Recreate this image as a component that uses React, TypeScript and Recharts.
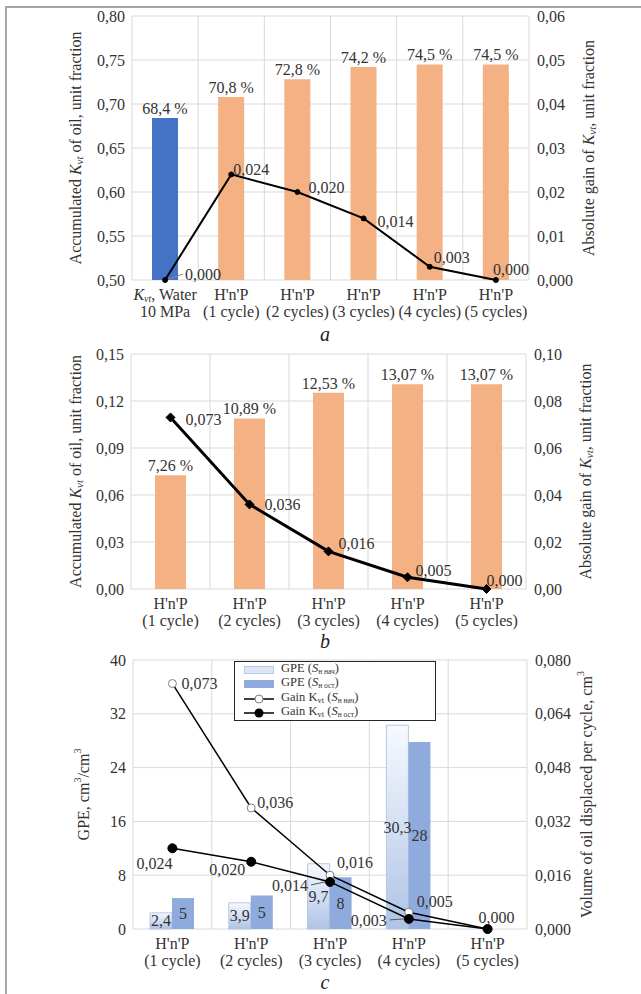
import React from 'react';
import {
  ComposedChart,
  Bar,
  Line,
  XAxis,
  YAxis,
  CartesianGrid,
  LabelList,
  Cell,
  Legend,
} from 'recharts';

// ---------------- data ----------------
// Chart a
const categoriesA = [
  'K_vt, Water\n10 MPa',
  "H'n'P\n(1 cycle)",
  "H'n'P\n(2 cycles)",
  "H'n'P\n(3 cycles)",
  "H'n'P\n(4 cycles)",
  "H'n'P\n(5 cycles)",
];
const kvtA = [0.684, 0.708, 0.728, 0.742, 0.745, 0.745];
const gainA = [0.0, 0.024, 0.02, 0.014, 0.003, 0.0];
const leftTicksA = [0.5, 0.55, 0.6, 0.65, 0.7, 0.75, 0.8];
const rightTicksA = [0, 0.01, 0.02, 0.03, 0.04, 0.05, 0.06];

// Chart b
const categoriesB = [
  "H'n'P\n(1 cycle)",
  "H'n'P\n(2 cycles)",
  "H'n'P\n(3 cycles)",
  "H'n'P\n(4 cycles)",
  "H'n'P\n(5 cycles)",
];
const kvtB = [0.0726, 0.1089, 0.1253, 0.1307, 0.1307];
const gainB = [0.073, 0.036, 0.016, 0.005, 0.0];
const leftTicksB = [0, 0.03, 0.06, 0.09, 0.12, 0.15];
const rightTicksB = [0, 0.02, 0.04, 0.06, 0.08, 0.1];

// Chart c
const categoriesC = [
  "H'n'P\n(1 cycle)",
  "H'n'P\n(2 cycles)",
  "H'n'P\n(3 cycles)",
  "H'n'P\n(4 cycles)",
  "H'n'P\n(5 cycles)",
];
const gpeInitial = [2.4, 3.9, 9.7, 30.3, null];
const gpeResidual = [4.6, 5.0, 7.7, 27.8, null];
const gainInitial = [0.073, 0.036, 0.016, 0.005, 0.0];
const gainResidual = [0.024, 0.02, 0.014, 0.003, 0.0];
const leftTicksC = [0, 8, 16, 24, 32, 40];
const rightTicksC = [0, 0.016, 0.032, 0.048, 0.064, 0.08];
const legendLabelsC = [
  { main: 'GPE (', sub: 'н нач', kvt: false },
  { main: 'GPE (', sub: 'н ост', kvt: false },
  { main: 'Gain K', sub: 'н нач', kvt: true },
  { main: 'Gain K', sub: 'н ост', kvt: true },
];

// ---------------- styles ----------------
const FONT = 'Liberation Serif, DejaVu Serif, Times New Roman, serif';
const TXT = '#333333';
const GRID = '#D9D9D9';
const ORANGE = '#F4B183';
const BLUE = '#4472C4';
const MID_BLUE = '#8FAADC';
const LIGHT_BLUE = '#B4C7E7';

type Off = { dx: number; dy: number; anchor?: 'start' | 'end'; leader?: boolean; hide?: boolean };

const offsA: Off[] = [
  { dx: 20, dy: -6, leader: true },
  { dx: 2, dy: -5 },
  { dx: 11, dy: -5 },
  { dx: 14, dy: 3 },
  { dx: 4, dy: -9 },
  { dx: -3, dy: -11 },
];
const offsB: Off[] = [
  { dx: 15, dy: 2 },
  { dx: 15, dy: 0 },
  { dx: 10, dy: -8 },
  { dx: 8, dy: -7 },
  { dx: 0, dy: -9 },
];
const offsCInit: Off[] = [
  { dx: 9, dy: 0 },
  { dx: 6, dy: -5 },
  { dx: 7, dy: -13 },
  { dx: 8, dy: -11 },
  { dx: -9, dy: -12 },
];
const offsCRes: Off[] = [
  { dx: 0, dy: 15, anchor: 'end' },
  { dx: -6, dy: 8, anchor: 'end' },
  { dx: -22, dy: 4, anchor: 'end', leader: true },
  { dx: -22, dy: 2, anchor: 'end', leader: true },
  { dx: 0, dy: 0, hide: true },
];

const fmt = (v: number, d: number) => v.toFixed(d).replace('.', ',');

// ---------------- helpers ----------------
function richLine(line: string) {
  if (line.startsWith('K_vt')) {
    return [
      <tspan key="k" fontStyle="italic">K</tspan>,
      <tspan key="s" fontStyle="italic" fontSize={10} dy={2}>vt</tspan>,
      <tspan key="r" dy={-2}>{line.slice(4)}</tspan>,
    ];
  }
  return line;
}

const CatTick = (props: any) => {
  const { x, y, payload } = props;
  const lines = String(payload.value).split('\n');
  return (
    <g transform={`translate(${x},${y})`}>
      {lines.map((ln, i) => (
        <text
          key={i}
          x={0}
          y={20 + i * 17}
          textAnchor="middle"
          fontSize={16}
          fill={TXT}
          fontFamily={FONT}
        >
          {richLine(ln)}
        </text>
      ))}
    </g>
  );
};

function vTitle(cx: number, cy: number, children: React.ReactNode) {
  return (
    <text
      x={cx}
      y={cy}
      transform={`rotate(-90 ${cx} ${cy})`}
      textAnchor="middle"
      dominantBaseline="central"
      fontSize={16}
      fill={TXT}
      fontFamily={FONT}
    >
      {children}
    </text>
  );
}

const kvtTspans = (size = 11) => [
  <tspan key="k" fontStyle="italic">K</tspan>,
  <tspan key="v" fontStyle="italic" fontSize={size} dy={4}>vt</tspan>,
];

function makePointLabel(offs: Off[], digits: number) {
  return (p: any) => {
    const { x, y, value, index } = p;
    const o = offs[index];
    if (!o || o.hide || value == null) return null;
    const tx = x + o.dx;
    const ty = y + o.dy;
    const anchor = o.anchor || 'start';
    let leader = null;
    if (o.leader) {
      leader =
        anchor === 'start' ? (
          <line x1={x + 4} y1={y - 1} x2={tx - 2} y2={ty} stroke="#8C8C8C" strokeWidth={1} />
        ) : (
          <line x1={tx + 3} y1={ty - 1} x2={x - 5} y2={y} stroke="#595959" strokeWidth={1} />
        );
    }
    return (
      <g>
        {leader}
        <text
          x={tx}
          y={ty}
          textAnchor={anchor}
          dominantBaseline="central"
          fontSize={16}
          fill={TXT}
          fontFamily={FONT}
        >
          {fmt(value, digits)}
        </text>
      </g>
    );
  };
}

function makeBarLabel(format: (v: number) => string, where: 'top' | 'center') {
  return (p: any) => {
    const { x, y, width, height, value } = p;
    if (value == null) return null;
    const cx = x + width / 2;
    const cy = where === 'top' ? y - 4 : y + height / 2;
    return (
      <text
        x={cx}
        y={cy}
        textAnchor="middle"
        dominantBaseline={where === 'top' ? 'auto' : 'central'}
        fontSize={16}
        fill={TXT}
        fontFamily={FONT}
      >
        {format(Number(value))}
      </text>
    );
  };
}

const bandGrid = (n: number) => (props: any) => {
  const { offset } = props;
  const res: number[] = [];
  for (let i = 0; i <= n; i++) res.push(offset.left + (i * offset.width) / n);
  return res;
};

const Diamond = (props: any) => {
  const { cx, cy } = props;
  if (cx == null || cy == null) return null;
  const s = 4.5;
  return (
    <polygon
      points={`${cx},${cy - s} ${cx + s},${cy} ${cx},${cy + s} ${cx - s},${cy}`}
      fill="#000"
      stroke="#000"
    />
  );
};

const tickStyle = { fontSize: 16, fill: TXT, fontFamily: FONT };

// ---------------- chart a ----------------
const dataA = categoriesA.map((c, i) => ({ cat: c, kvt: kvtA[i], gain: gainA[i] }));

function ChartA() {
  const top = 16;
  const bottom = 280;
  const cy = (top + bottom) / 2;
  return (
    <ComposedChart
      width={641}
      height={330}
      data={dataA}
      margin={{ top: 16, right: 52, bottom: 10, left: 72 }}
    >
      <CartesianGrid
        yAxisId="left"
        stroke={GRID}
        strokeWidth={1}
        verticalCoordinatesGenerator={bandGrid(dataA.length)}
      />
      <XAxis
        dataKey="cat"
        interval={0}
        axisLine={false}
        tickLine={false}
        tickSize={0}
        tickMargin={0}
        height={40}
        tick={<CatTick />}
      />
      <YAxis
        yAxisId="left"
        domain={[0.5, 0.8]}
        ticks={leftTicksA}
        width={60}
        axisLine={false}
        tickLine={false}
        tickSize={0}
        tickMargin={7}
        tick={tickStyle}
        tickFormatter={(v: number) => fmt(v, 2)}
        label={{
          content: () =>
            vTitle(75, cy, [
              'Accumulated ',
              ...kvtTspans(),
              <tspan key="r" dy={-4}> of oil, unit fraction</tspan>,
            ]),
        }}
      />
      <YAxis
        yAxisId="right"
        orientation="right"
        domain={[0, 0.06]}
        ticks={rightTicksA}
        width={60}
        axisLine={false}
        tickLine={false}
        tickSize={0}
        tickMargin={8}
        tick={tickStyle}
        tickFormatter={(v: number) => (v === 0 ? '0,000' : fmt(v, 2))}
        label={{
          content: () =>
            vTitle(588, cy, [
              'Absolute gain of ',
              ...kvtTspans(),
              <tspan key="r" dy={-4}>, unit fraction</tspan>,
            ]),
        }}
      />
      <Bar yAxisId="left" dataKey="kvt" barSize={26} isAnimationActive={false}>
        {dataA.map((_, i) => (
          <Cell key={i} fill={i === 0 ? BLUE : ORANGE} />
        ))}
        <LabelList dataKey="kvt" content={makeBarLabel((v) => fmt(v * 100, 1) + ' %', 'top')} />
      </Bar>
      <Line
        yAxisId="right"
        dataKey="gain"
        stroke="#000"
        strokeWidth={2}
        dot={{ r: 2.5, fill: '#000', stroke: '#000', strokeWidth: 1 }}
        isAnimationActive={false}
      >
        <LabelList dataKey="gain" content={makePointLabel(offsA, 3)} />
      </Line>
    </ComposedChart>
  );
}

// ---------------- chart b ----------------
const dataB = categoriesB.map((c, i) => ({ cat: c, kvt: kvtB[i], gain: gainB[i] }));

function ChartB() {
  const cy = 24 + 235 / 2;
  return (
    <ComposedChart
      width={641}
      height={300}
      data={dataB}
      margin={{ top: 24, right: 55, bottom: 1, left: 71 }}
    >
      <CartesianGrid
        yAxisId="left"
        stroke={GRID}
        strokeWidth={1}
        verticalCoordinatesGenerator={bandGrid(dataB.length)}
      />
      <XAxis
        dataKey="cat"
        interval={0}
        axisLine={false}
        tickLine={false}
        tickSize={0}
        tickMargin={0}
        height={40}
        tick={<CatTick />}
      />
      <YAxis
        yAxisId="left"
        domain={[0, 0.15]}
        ticks={leftTicksB}
        width={60}
        axisLine={false}
        tickLine={false}
        tickSize={0}
        tickMargin={7}
        tick={tickStyle}
        tickFormatter={(v: number) => fmt(v, 2)}
        label={{
          content: () =>
            vTitle(75, cy, [
              'Accumulated ',
              ...kvtTspans(),
              <tspan key="r" dy={-4}> of oil, unit fraction</tspan>,
            ]),
        }}
      />
      <YAxis
        yAxisId="right"
        orientation="right"
        domain={[0, 0.1]}
        ticks={rightTicksB}
        width={60}
        axisLine={false}
        tickLine={false}
        tickSize={0}
        tickMargin={8}
        tick={tickStyle}
        tickFormatter={(v: number) => fmt(v, 2)}
        label={{
          content: () =>
            vTitle(585, cy, [
              'Absolute gain of ',
              ...kvtTspans(),
              <tspan key="r" dy={-4}>, unit fraction</tspan>,
            ]),
        }}
      />
      <Bar yAxisId="left" dataKey="kvt" barSize={31} fill={ORANGE} isAnimationActive={false}>
        <LabelList dataKey="kvt" content={makeBarLabel((v) => fmt(v * 100, 2) + ' %', 'top')} />
      </Bar>
      <Line
        yAxisId="right"
        dataKey="gain"
        stroke="#000"
        strokeWidth={3}
        dot={<Diamond />}
        isAnimationActive={false}
      >
        <LabelList dataKey="gain" content={makePointLabel(offsB, 3)} />
      </Line>
    </ComposedChart>
  );
}

// ---------------- chart c ----------------
const dataC = categoriesC.map((c, i) => ({
  cat: c,
  gpeInit: gpeInitial[i],
  gpeRes: gpeResidual[i],
  gainInit: gainInitial[i],
  gainRes: gainResidual[i],
}));

const SubS = ({ sub }: { sub: string }) => (
  <>
    <i>S</i>
    <span style={{ fontSize: 7.5, verticalAlign: -2 }}>{sub}</span>
  </>
);

const LegendC = () => (
  <div
    style={{
      border: '1.5px solid #262626',
      background: '#fff',
      width: 202,
      height: 60,
      boxSizing: 'border-box',
      fontFamily: FONT,
      fontSize: 12.5,
      color: TXT,
      paddingLeft: 9,
      paddingTop: 0.5,
    }}
  >
    {legendLabelsC.map((it, i) => (
      <div key={i} style={{ height: 14.5, lineHeight: '13px', display: 'flex', alignItems: 'center', whiteSpace: 'nowrap' }}>
        <svg width={30} height={12} style={{ marginRight: 7, flex: 'none' }}>
          {i === 0 && <rect x={0.5} y={2.5} width={29} height={7} fill="#DCE6F5" stroke={LIGHT_BLUE} />}
          {i === 1 && <rect x={0} y={2} width={30} height={8} fill={MID_BLUE} />}
          {i === 2 && (
            <>
              <line x1={0} y1={6} x2={30} y2={6} stroke="#000" strokeWidth={1.5} />
              <circle cx={15} cy={6} r={4} fill="#fff" stroke="#7F7F7F" />
            </>
          )}
          {i === 3 && (
            <>
              <line x1={0} y1={6} x2={30} y2={6} stroke="#000" strokeWidth={1.5} />
              <circle cx={15} cy={6} r={4.5} fill="#000" />
            </>
          )}
        </svg>
        <span>
          {it.main}
          {it.kvt && (
            <>
              <span style={{ fontSize: 8.5, verticalAlign: -2 }}>vt</span>
              {' ('}
            </>
          )}
          <SubS sub={it.sub} />
          {')'}
        </span>
      </div>
    ))}
  </div>
);

function ChartC() {
  const cy = 20 + 269 / 2;
  return (
    <ComposedChart
      width={641}
      height={340}
      data={dataC}
      margin={{ top: 20, right: 54, bottom: 11, left: 73 }}
      barGap={0}
    >
      <defs>
        <linearGradient id="gpeLight" x1="0" y1="0" x2="0" y2="1">
          <stop offset="0%" stopColor="#F7FAFE" />
          <stop offset="100%" stopColor="#AFC3E6" />
        </linearGradient>
      </defs>
      <CartesianGrid
        yAxisId="left"
        stroke={GRID}
        strokeWidth={1}
        verticalCoordinatesGenerator={bandGrid(dataC.length)}
      />
      <XAxis
        dataKey="cat"
        interval={0}
        axisLine={false}
        tickLine={false}
        tickSize={0}
        tickMargin={0}
        height={40}
        tick={<CatTick />}
      />
      <YAxis
        yAxisId="left"
        domain={[0, 40]}
        ticks={leftTicksC}
        width={60}
        axisLine={false}
        tickLine={false}
        tickSize={0}
        tickMargin={7}
        tick={tickStyle}
        tickFormatter={(v: number) => String(v)}
        label={{
          content: () =>
            vTitle(83, cy, [
              'GPE, cm',
              <tspan key="a" fontSize={10} dy={-6}>3</tspan>,
              <tspan key="b" dy={6}>/cm</tspan>,
              <tspan key="c" fontSize={10} dy={-6}>3</tspan>,
            ]),
        }}
      />
      <YAxis
        yAxisId="right"
        orientation="right"
        domain={[0, 0.08]}
        ticks={rightTicksC}
        width={60}
        axisLine={false}
        tickLine={false}
        tickSize={0}
        tickMargin={8}
        tick={tickStyle}
        tickFormatter={(v: number) => fmt(v, 3)}
        label={{
          content: () =>
            vTitle(586, cy, [
              'Volume of oil displaced per cycle, cm',
              <tspan key="a" fontSize={10} dy={-6}>3</tspan>,
            ]),
        }}
      />
      <Legend
        layout="vertical"
        verticalAlign="middle"
        align="center"
        content={() => <LegendC />}
        wrapperStyle={{ left: 234, top: 21, width: 202, height: 60 }}
      />
      <Bar
        yAxisId="left"
        dataKey="gpeInit"
        barSize={22}
        fill="url(#gpeLight)"
        stroke={LIGHT_BLUE}
        strokeWidth={1}
        isAnimationActive={false}
      >
        <LabelList dataKey="gpeInit" content={makeBarLabel((v) => fmt(v, 1), 'center')} />
      </Bar>
      <Bar yAxisId="left" dataKey="gpeRes" barSize={22} fill={MID_BLUE} isAnimationActive={false}>
        <LabelList dataKey="gpeRes" content={makeBarLabel((v) => String(Math.round(v)), 'center')} />
      </Bar>
      <Line
        yAxisId="right"
        dataKey="gainInit"
        stroke="#000"
        strokeWidth={1.5}
        dot={{ r: 4, fill: '#fff', stroke: '#7F7F7F', strokeWidth: 1 }}
        isAnimationActive={false}
      >
        <LabelList dataKey="gainInit" content={makePointLabel(offsCInit, 3)} />
      </Line>
      <Line
        yAxisId="right"
        dataKey="gainRes"
        stroke="#000"
        strokeWidth={1.5}
        dot={{ r: 4.5, fill: '#000', stroke: '#000', strokeWidth: 1 }}
        isAnimationActive={false}
      >
        <LabelList dataKey="gainRes" content={makePointLabel(offsCRes, 3)} />
      </Line>
    </ComposedChart>
  );
}

const caption = (letter: string, top: number) => (
  <div
    style={{
      position: 'absolute',
      left: 305,
      width: 40,
      top,
      textAlign: 'center',
      fontFamily: FONT,
      fontStyle: 'italic',
      fontSize: 20,
      lineHeight: '24px',
      color: '#222',
    }}
  >
    {letter}
  </div>
);

export default function App() {
  return (
    <div
      style={{
        position: 'absolute',
        left: 0,
        top: 0,
        width: 641,
        height: 994,
        background: '#fff',
        overflow: 'hidden',
        fontFamily: FONT,
      }}
    >
      <div
        style={{
          position: 'absolute',
          left: 5,
          top: 6,
          width: 700,
          height: 1000,
          borderTop: '2px solid #A6A6A6',
          borderLeft: '2px solid #A6A6A6',
        }}
      />
      <div style={{ position: 'absolute', left: 0, top: 0 }}>
        <ChartA />
      </div>
      {caption('a', 322)}
      <div style={{ position: 'absolute', left: 0, top: 330 }}>
        <ChartB />
      </div>
      {caption('b', 629)}
      <div style={{ position: 'absolute', left: 0, top: 640 }}>
        <ChartC />
      </div>
      {caption('c', 970)}
    </div>
  );
}
